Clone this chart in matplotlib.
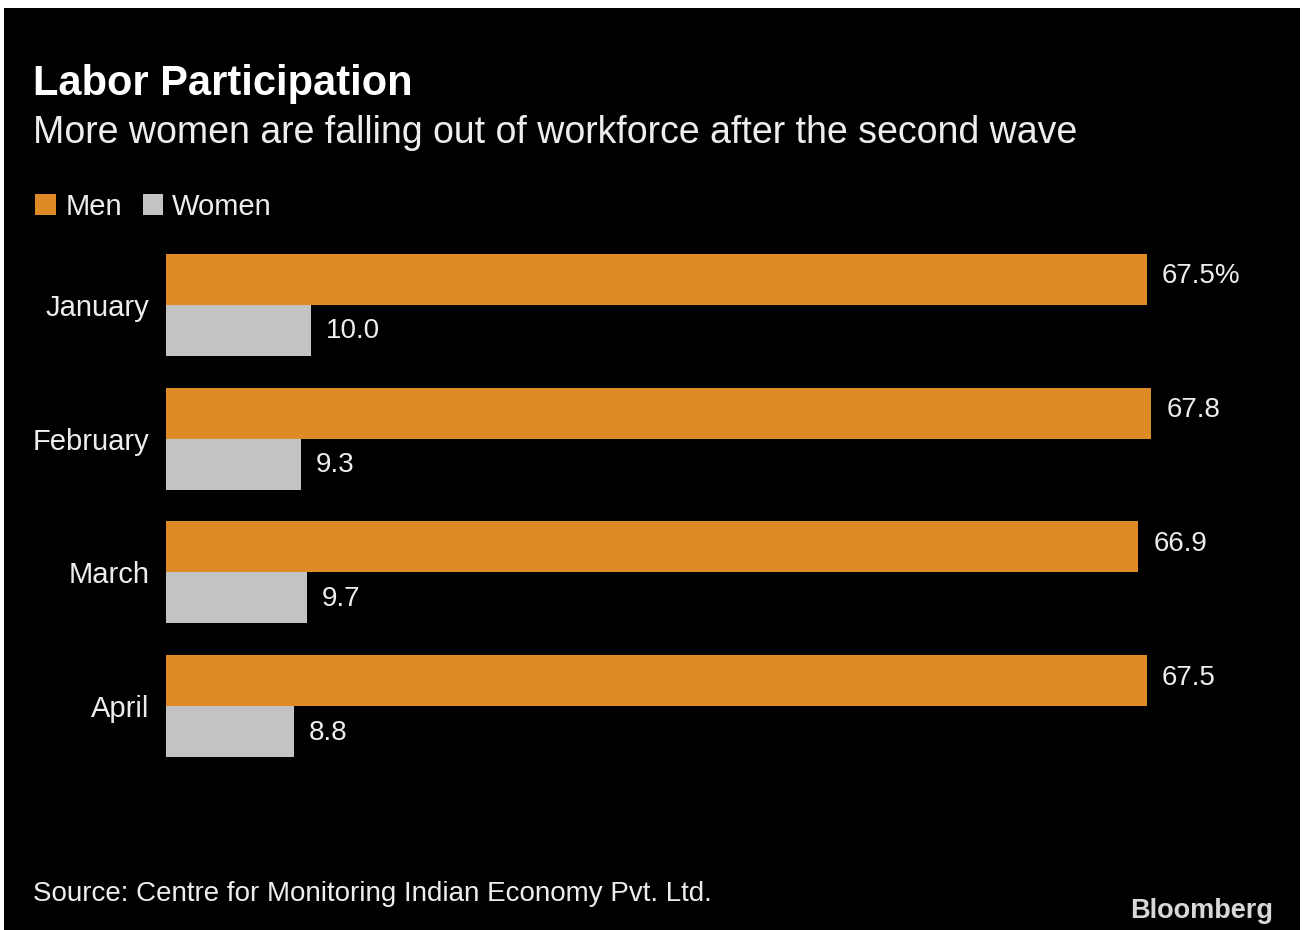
import matplotlib.pyplot as plt
from matplotlib.patches import Rectangle

W, H = 1304, 930

months = ['January', 'February', 'March', 'April']
men = [67.5, 67.8, 66.9, 67.5]
women = [10.0, 9.3, 9.7, 8.8]

title = 'Labor Participation'
subtitle = 'More women are falling out of workforce after the second wave'
source = 'Source: Centre for Monitoring Indian Economy Pvt. Ltd.'

ORANGE = '#DE8A26'
GREY = '#C3C3C3'
TEXT = '#EDEDED'
FONT = 'Liberation Sans'


def fx(px):
  return px / W


def fy(py):
  return 1 - py / H


fig = plt.figure(figsize=(W / 100, H / 100), dpi=100)
fig.patch.set_facecolor('white')
fig.add_artist(Rectangle((fx(4), 0), fx(1300) - fx(4), fy(8), transform=fig.transFigure,
                         facecolor='black', edgecolor='none', zorder=0))

# axes: left edge at 166px, scale ~14.53 px per point
ax_left, ax_right = 166, 1296
ax_top, ax_bot = 240, 780
ax = fig.add_axes([fx(ax_left), fy(ax_bot), (ax_right - ax_left) / W, (ax_bot - ax_top) / H])
ax.set_facecolor('none')
ppu = (1147 - 166) / 67.5
ax.set_xlim(0, (ax_right - ax_left) / ppu)
row = 133.67
ax.set_ylim(3 + (ax_bot - 706) / row, -(305 - ax_top) / row)

h = 51 / row
ys = list(range(len(months)))
ax.barh([y - h / 2 for y in ys], men, height=h, color=ORANGE)
ax.barh([y + h / 2 for y in ys], women, height=h, color=GREY)

for i, y in enumerate(ys):
  lab = f'{men[i]:.1f}' + ('%' if i == 0 else '')
  ax.annotate(lab, (men[i], y - h / 2), xytext=(15, 3), textcoords='offset pixels',
              ha='left', va='center', color=TEXT, fontsize=20, family=FONT)
  ax.annotate(f'{women[i]:.1f}', (women[i], y + h / 2), xytext=(15, -1), textcoords='offset pixels',
              ha='left', va='center', color=TEXT, fontsize=20, family=FONT)

ax.set_yticks(ys)
ax.set_yticklabels(months, fontsize=21, color=TEXT, family=FONT)
ax.tick_params(axis='y', length=0, pad=12)
ax.set_xticks([])
for s in ax.spines.values():
  s.set_visible(False)

fig.text(fx(33), fy(95), title, fontsize=30, fontweight='bold', color='white',
         family=FONT, va='baseline')
fig.text(fx(33), fy(143), subtitle, fontsize=27, color=TEXT, family=FONT, va='baseline')

# legend
fig.add_artist(Rectangle((fx(35), fy(215)), fx(21), 21 / H, transform=fig.transFigure,
                         facecolor=ORANGE, edgecolor='none'))
fig.text(fx(66), fy(215), 'Men', fontsize=21, color=TEXT, family=FONT, va='baseline')
fig.add_artist(Rectangle((fx(143), fy(215)), fx(20), 21 / H, transform=fig.transFigure,
                         facecolor=GREY, edgecolor='none'))
fig.text(fx(172), fy(215), 'Women', fontsize=21, color=TEXT, family=FONT, va='baseline')

fig.text(fx(33), fy(901), source, fontsize=20, color=TEXT, family=FONT, va='baseline')
fig.text(fx(1273), fy(918), 'Bloomberg', fontsize=19.5, fontweight='bold', color='#D8D8D8',
         family=FONT, va='baseline', ha='right')

fig.savefig('out.png', dpi=100, facecolor=fig.get_facecolor())
